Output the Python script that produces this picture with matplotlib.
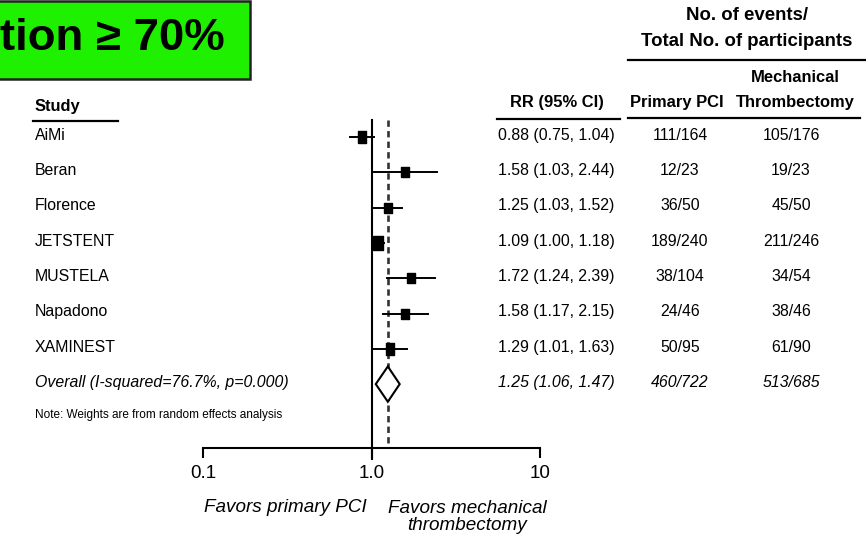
import numpy as np
import matplotlib
matplotlib.use('Agg')
import matplotlib.pyplot as plt
import matplotlib.transforms as mtransforms
from matplotlib import font_manager
from matplotlib.lines import Line2D
from matplotlib.patches import Rectangle, Polygon

# Study data
studies = ['AiMi', 'Beran', 'Florence', 'JETSTENT', 'MUSTELA', 'Napadono', 'XAMINEST']
rr = [0.88, 1.58, 1.25, 1.09, 1.72, 1.58, 1.29]
ci_low = [0.75, 1.03, 1.03, 1.00, 1.24, 1.17, 1.01]
ci_high = [1.04, 2.44, 1.52, 1.18, 2.39, 2.15, 1.63]
weights = [15.2, 11.3, 13.0, 21.1, 13.2, 11.4, 14.8]  # random effects weights (%)
events_pci = ['111/164', '12/23', '36/50', '189/240', '38/104', '24/46', '50/95']
events_mt = ['105/176', '19/23', '45/50', '211/246', '34/54', '38/46', '61/90']

# Overall estimate
overall_label = 'Overall (I-squared=76.7%, p=0.000)'
overall_rr = 1.25
overall_low = 1.06
overall_high = 1.47
overall_pci = '460/722'
overall_mt = '513/685'

xticks = [0.1, 1.0, 10]
xtick_labels = ['0.1', '1.0', '10']

# pick a narrow font if we have it
names = {f.name for f in font_manager.fontManager.ttflist}
if 'Liberation Sans Narrow' in names:
    fam = ['Liberation Sans Narrow', 'DejaVu Sans']
    k = 1.0
else:
    fam = ['Liberation Sans', 'DejaVu Sans']
    k = 0.85
plt.rcParams['font.family'] = fam

W, H = 866, 540
fig = plt.figure(figsize=(W / 100, H / 100), dpi=100)


def fx(px):
    return px / W


def fy(py):
    return 1 - py / H


# forest plot axes: bottom spine is the x axis at 448 px, 0.1 at 203 px, 10 at 540 px
ax = fig.add_axes([fx(203), fy(448), fx(540 - 203), 448 / H])
ax.set_xscale('log')
ax.set_xlim(0.1, 10)
row0, step = 137, 35.3
ax.set_ylim((448 - row0) / step, -row0 / step)
for s in ['top', 'left', 'right']:
    ax.spines[s].set_visible(False)
ax.spines['bottom'].set_linewidth(1.5)
ax.set_yticks([])
ax.set_xticks(xticks, labels=xtick_labels)
ax.minorticks_off()
ax.tick_params(axis='x', direction='out', length=7.5, width=1.5, pad=5,
               labelsize=16 * k)
ax.patch.set_visible(False)

y = np.arange(len(studies))
ytop = (120 - row0) / step
ybot = (448 - row0) / step

# null line and overall dashed line
ax.plot([1, 1], [ytop, ybot + 0.3], color='black', lw=1.5, clip_on=False)
ax.plot([overall_rr, overall_rr], [ytop, ybot - 0.1], color='#333333', lw=1.9,
        ls=(0, (2.4, 1.6)))

# CI lines and weighted boxes
box = [(-0.36, -0.5), (0.36, -0.5), (0.36, 0.5), (-0.36, 0.5), (-0.36, -0.5)]
for i in range(len(studies)):
    ax.plot([ci_low[i], ci_high[i]], [y[i], y[i]], color='black', lw=1.4)
    ms = 8.3 * np.sqrt(weights[i] / 15.2)
    ax.plot(rr[i], y[i], marker=box, color='black', ms=ms, ls='none')

# overall diamond
yo = len(studies)
diamond = Polygon([[overall_low, yo], [overall_rr, yo - 0.5],
                   [overall_high, yo], [overall_rr, yo + 0.5]],
                  closed=True, facecolor='white', edgecolor='black', lw=1.5, zorder=3)
ax.add_patch(diamond)

# text columns
tr = mtransforms.blended_transform_factory(fig.transFigure, ax.transData)
fs = 13.5 * k
for i in range(len(studies)):
    yi = y[i] - 0.05
    ax.text(fx(35), yi, studies[i], transform=tr, ha='left', va='center', fontsize=fs)
    ax.text(fx(556), yi, '%.2f (%.2f, %.2f)' % (rr[i], ci_low[i], ci_high[i]),
            transform=tr, ha='center', va='center', fontsize=fs)
    ax.text(fx(680), yi, events_pci[i], transform=tr, ha='center', va='center', fontsize=fs)
    ax.text(fx(791), yi, events_mt[i], transform=tr, ha='center', va='center', fontsize=fs)

yi = yo - 0.05
ax.text(fx(35), yi, overall_label, transform=tr, ha='left', va='center',
        fontsize=fs, style='italic')
ax.text(fx(556), yi, '%.2f (%.2f, %.2f)' % (overall_rr, overall_low, overall_high),
        transform=tr, ha='center', va='center', fontsize=fs, style='italic')
ax.text(fx(680), yi, overall_pci, transform=tr, ha='center', va='center',
        fontsize=fs, style='italic')
ax.text(fx(791), yi, overall_mt, transform=tr, ha='center', va='center',
        fontsize=fs, style='italic')
ax.text(fx(35), (415 - row0) / step, 'Note: Weights are from random effects analysis',
        transform=tr, ha='left', va='center', fontsize=10 * k)

# headers
hs = 14 * k
fig.text(fx(35), fy(106), 'Study', ha='left', va='center', fontsize=hs, weight='bold')
fig.text(fx(557), fy(103), 'RR (95% CI)', ha='center', va='center', fontsize=hs, weight='bold')
fig.text(fx(677), fy(103), 'Primary PCI', ha='center', va='center', fontsize=hs, weight='bold')
fig.text(fx(795), fy(77), 'Mechanical', ha='center', va='center', fontsize=hs, weight='bold')
fig.text(fx(795), fy(103), 'Thrombectomy', ha='center', va='center', fontsize=hs, weight='bold')
fig.text(fx(747), fy(16), 'No. of events/', ha='center', va='center',
         fontsize=15.8 * k, weight='bold')
fig.text(fx(747), fy(41), 'Total No. of participants', ha='center', va='center',
         fontsize=15.8 * k, weight='bold')

for x0, x1, yy in [(33, 118, 121), (497, 620, 119), (628, 860, 118), (628, 866, 60)]:
    fig.add_artist(Line2D([fx(x0), fx(x1)], [fy(yy), fy(yy)], color='black', lw=1.6))

# favors labels
fig.text(fx(367), fy(507), 'Favors primary PCI', ha='right', va='center',
         fontsize=16 * k, style='italic')
fig.text(fx(467), fy(517), 'Favors mechanical\nthrombectomy', ha='center', va='center',
         fontsize=16 * k, style='italic', linespacing=1.0)

# green title box
fig.add_artist(Rectangle((fx(-3), fy(79)), fx(253), (79 - 1) / H, facecolor='#1ef000',
                         edgecolor='#222222', lw=1.8, transform=fig.transFigure))
fig.text(fx(0), fy(39), 'tion \u2265 70%', ha='left', va='center', fontsize=38.5 * k,
         weight='bold', family=fam)

fig.savefig('out.png', dpi=100)
